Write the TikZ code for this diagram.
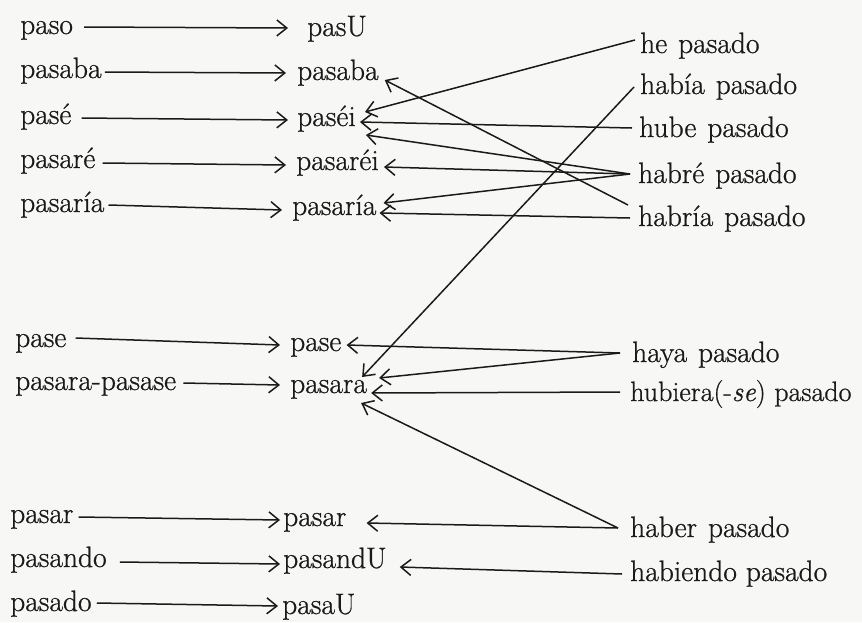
\documentclass[tikz,border=0pt]{standalone}
\usepackage{fontspec}
\setmainfont{Latin Modern Roman}[FakeBold=0.8]
\usetikzlibrary{arrows.meta}
\definecolor{ink}{HTML}{1A1A1A}
\definecolor{paper}{HTML}{F7F7F5}
\begin{document}
\begin{tikzpicture}[x=1pt,y=-1pt,
  word/.style={anchor=base west, inner sep=0pt, text=ink, font=\fontsize{29.5}{34}\selectfont},
  arr/.style={draw=ink, line width=1.5pt, -{Straight Barb[length=10pt,width=16pt]}}]
\fill[paper] (0,0) rectangle (862,622);
\useasboundingbox (0,0) rectangle (862,622);
% left column
\node[word] (L1) at (20,34) {paso};
\node[word] (L2) at (20,78) {pasaba};
\node[word] (L3) at (20,124) {pasé};
\node[word] (L4) at (20,168) {pasaré};
\node[word] (L5) at (20,212) {pasaría};
\node[word] (L6) at (15,347) {pase};
\node[word] (L7) at (15,390) {pasara-pasase};
\node[word] (L8) at (10,523) {pasar};
\node[word] (L9) at (10,567) {pasando};
\node[word] (L10) at (10,611) {pasado};
% middle column
\node[word] (M1) at (307,36) {pasU};
\node[word] (M2) at (297,80) {pasaba};
\node[word] (M3) at (297,126) {paséi};
\node[word] (M4) at (296,170) {pasaréi};
\node[word] (M5) at (292,215) {pasaría};
\node[word] (M6) at (290,351) {pase};
\node[word] (M7) at (290,393) {pasara};
\node[word] (M8) at (283,526) {pasar};
\node[word] (M9) at (283,568) {pasandU};
\node[word] (M10) at (282,614) {pasaU};
% right column
\node[word] (R1) at (640,53) {he\hspace{2pt} pasado};
\node[word] (R2) at (640,94) {había\hspace{2pt} pasado};
\node[word] (R3) at (639,137) {hube\hspace{2pt} pasado};
\node[word] (R4) at (638,183) {habré\hspace{2pt} pasado};
\node[word] (R5) at (638,226) {habría\hspace{2pt} pasado};
\node[word] (R6) at (632,362) {haya\hspace{2pt} pasado};
\node[word, font=\fontsize{28}{32}\selectfont] (R7) at (630,401) {hubiera(-\textit{se}) pasado};
\node[word] (R8) at (630,537) {haber\hspace{2pt} pasado};
\node[word] (R9) at (630,581) {habiendo pasado};
% left arrows
\draw[arr] ([xshift=11pt,yshift=7pt]L1.base east) -- ([xshift=-19pt,yshift=8pt]M1.base west);
\draw[arr] ([xshift=3pt,yshift=6pt]L2.base east) -- ([xshift=-11pt,yshift=7pt]M2.base west);
\draw[arr] ([xshift=10pt,yshift=6pt]L3.base east) -- ([xshift=-9pt,yshift=6pt]M3.base west);
\draw[arr] ([xshift=7pt,yshift=5pt]L4.base east) -- ([xshift=-10pt,yshift=5pt]M4.base west);
\draw[arr] ([xshift=4pt,yshift=7pt]L5.base east) -- ([xshift=-10pt,yshift=5pt]M5.base west);
\draw[arr] ([xshift=9pt,yshift=9pt]L6.base east) -- ([xshift=-10pt,yshift=6pt]M6.base west);
\draw[arr] ([xshift=7pt,yshift=7pt]L7.base east) -- ([xshift=-10pt,yshift=8pt]M7.base west);
\draw[arr] ([xshift=5pt,yshift=6pt]L8.base east) -- ([xshift=-3pt,yshift=6pt]M8.base west);
\draw[arr] ([xshift=13pt,yshift=5pt]L9.base east) -- ([xshift=-3pt,yshift=4pt]M9.base west);
\draw[arr] ([xshift=5pt,yshift=8pt]L10.base east) -- ([xshift=-4pt,yshift=8pt]M10.base west);
% right connectors
\draw[arr] ([xshift=-5pt,yshift=13pt]R1.base west) -- ([xshift=9pt,yshift=14pt]M3.base east);
\draw[arr] ([xshift=-6pt,yshift=7pt]R2.base west) -- ([xshift=-5pt,yshift=16pt]M7.base east);
\draw[arr] ([xshift=-7pt,yshift=9pt]R3.base west) -- ([xshift=4pt,yshift=4pt]M3.base east);
\draw[arr] ([xshift=-8pt,yshift=9pt]R4.base west) -- ([xshift=10pt,yshift=-9pt]M3.base east);
\draw[arr] ([xshift=-8pt,yshift=9pt]R4.base west) -- ([xshift=5pt,yshift=3pt]M4.base east);
\draw[arr] ([xshift=-8pt,yshift=9pt]R4.base west) -- ([xshift=7pt,yshift=12pt]M5.base east);
\draw[arr] ([xshift=-10pt,yshift=21pt]R5.base west) -- ([xshift=6pt,yshift=0pt]M2.base east);
\draw[arr] ([xshift=-8pt,yshift=8pt]R5.base west) -- ([xshift=3pt,yshift=2pt]M5.base east);
\draw[arr] ([xshift=-12pt,yshift=9pt]R6.base west) -- ([xshift=5pt,yshift=6pt]M6.base east);
\draw[arr] ([xshift=-12pt,yshift=9pt]R6.base west) -- ([xshift=12pt,yshift=15pt]M7.base east);
\draw[arr] ([xshift=-10pt,yshift=9pt]R7.base west) -- ([xshift=4pt,yshift=0pt]M7.base east);
\draw[arr] ([xshift=-12pt,yshift=9pt]R8.base west) -- ([xshift=-6pt,yshift=-10pt]M7.base east);
\draw[arr] ([xshift=-12pt,yshift=9pt]R8.base west) -- ([xshift=20pt,yshift=3pt]M8.base east);
\draw[arr] ([xshift=-8pt,yshift=7pt]R9.base west) -- ([xshift=13pt,yshift=1pt]M9.base east);
\end{tikzpicture}
\end{document}
